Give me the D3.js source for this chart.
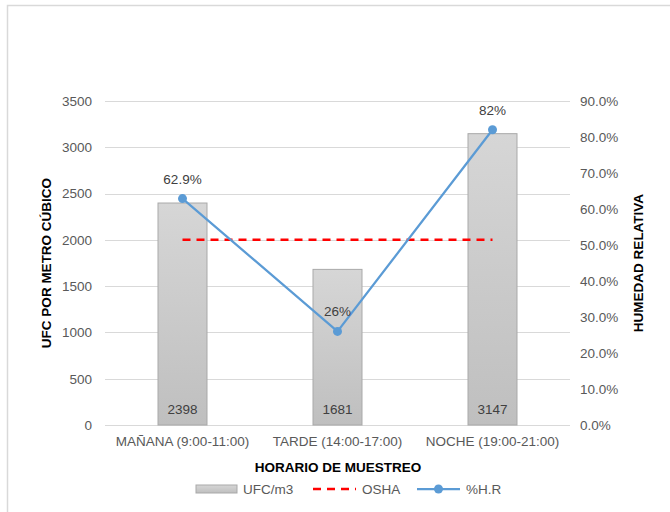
<!DOCTYPE html>
<html><head><meta charset="utf-8">
<script src="https://cdn.jsdelivr.net/npm/d3@7"></script>
<style>body{margin:0;background:#fff}svg{display:block}text{font-family:"Liberation Sans",Arial,sans-serif}</style>
</head><body>
<script>
const categories = ["MAÑANA (9:00-11:00)", "TARDE (14:00-17:00)", "NOCHE (19:00-21:00)"];
const ufc = [2398, 1681, 3147];
const humedad = [0.629, 0.26, 0.82];
const humedadLabels = ["62.9%", "26%", "82%"];
const osha = [2000, 2000, 2000];
const leftTicks = [0, 500, 1000, 1500, 2000, 2500, 3000, 3500];
const rightTicks = [0, 0.1, 0.2, 0.3, 0.4, 0.5, 0.6, 0.7, 0.8, 0.9];
const seriesNames = ["UFC/m3", "OSHA", "%H.R"];

const W = 670, H = 512;
const m = {left: 105, right: 100, top: 101, bottom: 87};
const FS = "13.5px";
const svg = d3.select("body").append("svg").attr("width", W).attr("height", H);

const defs = svg.append("defs");
const grad = defs.append("linearGradient").attr("id", "barg").attr("x1", 0).attr("y1", 0).attr("x2", 0).attr("y2", 1);
grad.append("stop").attr("offset", "0%").attr("stop-color", "#d6d6d6");
grad.append("stop").attr("offset", "100%").attr("stop-color", "#bfbfbf");

// frame
svg.append("path").attr("d", "M7.5,512 V5.5 H670").attr("fill", "none").attr("stroke", "#d9d9d9").attr("stroke-width", 1.5);

const x = d3.scaleBand().domain(categories).range([m.left, W - m.right]).paddingInner(0).paddingOuter(0);
const yL = d3.scaleLinear().domain([0, 3500]).range([H - m.bottom, m.top]);
const yR = d3.scaleLinear().domain([0, 0.9]).range([H - m.bottom, m.top]);

// gridlines
svg.append("g").selectAll("line").data(leftTicks).join("line")
  .attr("x1", m.left).attr("x2", W - m.right)
  .attr("y1", d => Math.round(yL(d)) + 0.5).attr("y2", d => Math.round(yL(d)) + 0.5)
  .attr("stroke", "#d9d9d9").attr("stroke-width", 1);

function styleAxis(g) {
  g.select(".domain").remove();
  g.selectAll("text").attr("fill", "#595959").style("font-size", FS).style("font-family", '"Liberation Sans",Arial,sans-serif');
}

// left axis
svg.append("g").attr("transform", `translate(${m.left - 13},0)`)
  .call(d3.axisLeft(yL).tickValues(leftTicks).tickFormat(d3.format("d")).tickSize(0).tickPadding(0))
  .call(styleAxis);

// right axis
svg.append("g").attr("transform", `translate(${W - m.right + 10},0)`)
  .call(d3.axisRight(yR).tickValues(rightTicks).tickFormat(d3.format(".1%")).tickSize(0).tickPadding(0))
  .call(styleAxis);

// x axis
svg.append("g").attr("transform", `translate(0,${H - m.bottom})`)
  .call(d3.axisBottom(x).tickSize(0).tickPadding(11))
  .call(styleAxis);

// bars
const bw = 49;
const cx = (i) => x(categories[i]) + x.bandwidth() / 2;
svg.append("g").selectAll("rect").data(ufc).join("rect")
  .attr("x", (d, i) => cx(i) - bw / 2)
  .attr("y", d => yL(d))
  .attr("width", bw).attr("height", d => yL(0) - yL(d))
  .attr("fill", "url(#barg)").attr("stroke", "#a9a9a9").attr("stroke-width", 1);

// bar labels
svg.append("g").selectAll("text").data(ufc).join("text")
  .attr("x", (d, i) => cx(i))
  .attr("y", yL(0) - 11)
  .attr("text-anchor", "middle").attr("fill", "#404040").style("font-size", FS)
  .text(d => d);

// OSHA line
svg.append("path").datum(osha)
  .attr("d", d3.line().x((d, i) => cx(i)).y(d => yL(d)))
  .attr("fill", "none").attr("stroke", "#ff0000").attr("stroke-width", 2.5).attr("stroke-dasharray", "8,6");

// humidity line
svg.append("path").datum(humedad)
  .attr("d", d3.line().x((d, i) => cx(i)).y(d => yR(d)))
  .attr("fill", "none").attr("stroke", "#5b9bd5").attr("stroke-width", 2.25);
svg.append("g").selectAll("circle").data(humedad).join("circle")
  .attr("cx", (d, i) => cx(i)).attr("cy", d => yR(d)).attr("r", 4.5).attr("fill", "#5b9bd5");
svg.append("g").selectAll("text").data(humedad).join("text")
  .attr("x", (d, i) => cx(i)).attr("y", d => yR(d) - 15)
  .attr("text-anchor", "middle").attr("fill", "#404040").style("font-size", FS)
  .text((d, i) => humedadLabels[i]);

// axis titles
svg.append("text").attr("transform", `translate(51,${(m.top + H - m.bottom) / 2}) rotate(-90)`)
  .attr("text-anchor", "middle").attr("font-weight", "bold").attr("fill", "#000").style("font-size", FS)
  .text("UFC POR METRO CÚBICO");
svg.append("text").attr("transform", `translate(643,${(m.top + H - m.bottom) / 2}) rotate(-90)`)
  .attr("text-anchor", "middle").attr("font-weight", "bold").attr("fill", "#000").style("font-size", FS)
  .text("HUMEDAD RELATIVA");
svg.append("text").attr("x", 338).attr("y", 472)
  .attr("text-anchor", "middle").attr("font-weight", "bold").attr("fill", "#000").style("font-size", FS)
  .text("HORARIO DE MUESTREO");

// legend
const lg = svg.append("g").attr("transform", "translate(0,489)");
lg.append("rect").attr("x", 196).attr("y", -4).attr("width", 41).attr("height", 8)
  .attr("fill", "url(#barg)").attr("stroke", "#a9a9a9");
lg.append("text").attr("x", 243).attr("y", 5).attr("fill", "#595959").style("font-size", FS).text(seriesNames[0]);
lg.append("line").attr("x1", 313).attr("x2", 356).attr("y1", 0).attr("y2", 0)
  .attr("stroke", "#ff0000").attr("stroke-width", 2.5).attr("stroke-dasharray", "8,6");
lg.append("text").attr("x", 362).attr("y", 5).attr("fill", "#595959").style("font-size", FS).text(seriesNames[1]);
lg.append("line").attr("x1", 417).attr("x2", 460).attr("y1", 0).attr("y2", 0)
  .attr("stroke", "#5b9bd5").attr("stroke-width", 2.25);
lg.append("circle").attr("cx", 438.5).attr("cy", 0).attr("r", 4.5).attr("fill", "#5b9bd5");
lg.append("text").attr("x", 466).attr("y", 5).attr("fill", "#595959").style("font-size", FS).text(seriesNames[2]);
</script>
</body></html>
